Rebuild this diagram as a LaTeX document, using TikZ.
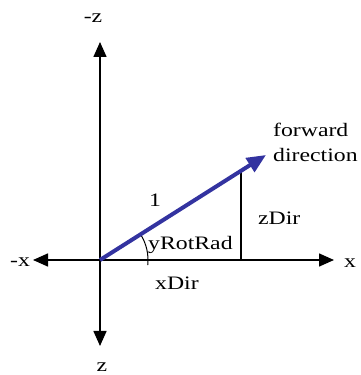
\documentclass[tikz,border=0pt]{standalone}
\usepackage{fontspec}
\newfontfamily\lblfont[FakeStretch=1.25]{Liberation Serif}
\usetikzlibrary{arrows.meta}
\definecolor{vecblue}{RGB}{51,51,160}
\begin{document}
\begin{tikzpicture}[x=1pt,y=1pt,
  lbl/.style={inner sep=0pt,font=\lblfont\fontsize{19}{22}\selectfont},
  axis/.style={line width=1.5pt,{Triangle[length=15pt,width=13pt]}-{Triangle[length=15pt,width=13pt]}},
  vec/.style={line width=4pt,vecblue,-{Triangle[length=19pt,width=16pt]}},
  thin line/.style={line width=1.2pt}]
\useasboundingbox (0,0) rectangle (361,375);
\coordinate (O) at (100,115);
\coordinate (xl) at (33,115);
\coordinate (xr) at (334,115);
\coordinate (zt) at (100,333);
\coordinate (zb) at (100,29);
\coordinate (V) at (266,220);
\coordinate (F) at (241,115);
\coordinate (T) at (241,204);
\draw[axis] (xl) -- (xr);
\draw[axis] (zt) -- (zb);
\draw[thin line] (F) -- (T);
\draw[line width=1pt] ([shift={(-6:48)}]O) arc[start angle=-6,end angle=32,radius=48];
\draw[vec] (O) -- (V);
\node[lbl,anchor=base] (mx) at (20,108) {-x};
\node[lbl,anchor=base] (px) at (350,107) {x};
\node[lbl,anchor=base] (mz) at (93,352) {-z};
\node[lbl,anchor=base] (pz) at (102,3) {z};
\node[lbl,anchor=base west] (fw) at (273,238) {forward};
\node[lbl,anchor=base west] (dr) at (273,213) {direction};
\node[lbl,anchor=base] (one) at (155,168) {1};
\node[lbl,anchor=base west] (yr) at (148,125) {yRotRad};
\node[lbl,anchor=base west] (zd) at (258,150) {zDir};
\node[lbl,anchor=base west] (xd) at (155,85) {xDir};
\end{tikzpicture}
\end{document}
